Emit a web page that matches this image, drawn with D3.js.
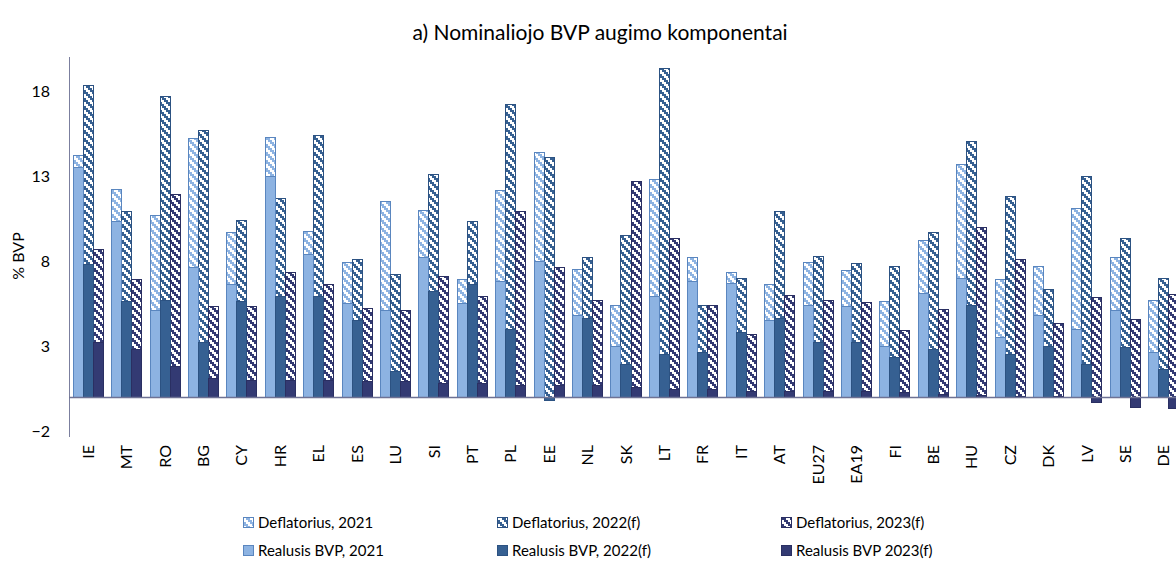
<!DOCTYPE html>
<html>
<head>
<meta charset="utf-8">
<script src="https://cdn.jsdelivr.net/npm/d3@7"></script>
<style>
  body { margin: 0; background: #fff; }
  svg { display: block; font-family: Lato, "Open Sans", sans-serif; }
</style>
</head>
<body>
<svg></svg>
<script>
// countries in chart order
let countries = ['IE','MT','RO','BG','CY','HR','EL','ES','LU','SI','PT','PL','EE','NL','SK','LT','FR','IT','AT','EU27','EA19','FI','BE','HU','CZ','DK','LV','SE','DE']

let years = ['2021', '2022', '2023']

// real GDP growth, % BVP
let real2021 = [13.5,10.3,5.1,7.6,6.6,13.0,8.4,5.5,5.1,8.2,5.5,6.8,8.0,4.8,3.0,5.9,6.8,6.7,4.5,5.4,5.3,3.0,6.1,7.0,3.5,4.8,4.0,5.1,2.6]
let real2022 = [7.8,5.6,5.7,3.2,5.6,5.9,5.9,4.5,1.5,6.2,6.6,4.0,-0.2,4.6,1.9,2.5,2.6,3.8,4.6,3.2,3.2,2.3,2.8,5.4,2.5,3.0,1.9,2.9,1.6]
let real2023 = [3.2,2.8,1.8,1.1,1.0,1.0,1.0,0.9,0.9,0.8,0.8,0.7,0.7,0.7,0.55,0.45,0.45,0.35,0.3,0.35,0.3,0.25,0.15,0.1,0.05,0.05,-0.35,-0.6,-0.65]

// GDP deflator contribution
let defl2021 = [0.7,1.9,5.6,7.6,3.05,2.25,1.35,2.4,6.4,2.8,1.4,5.35,6.4,2.7,2.4,6.9,1.4,0.6,2.1,2.5,2.15,2.6,3.1,6.7,3.4,2.9,7.1,3.1,3.1]
let defl2022 = [10.5,5.3,12.0,12.5,4.8,5.8,9.5,3.6,5.7,6.9,3.7,13.2,14.1,3.6,7.6,16.8,2.8,3.2,6.3,5.05,4.65,5.4,6.9,9.65,9.3,3.35,11.1,6.4,5.35]
let defl2023 = [5.5,4.1,10.1,4.2,4.3,6.3,5.6,4.3,4.2,6.3,5.1,10.2,6.9,5.0,12.1,8.9,4.95,3.3,5.7,5.3,5.25,3.65,5.0,9.9,8.05,4.3,5.85,4.55,6.05]

let yTicks = [-2, 3, 8, 13, 18]

let legendTop = ['Deflatorius, 2021', 'Deflatorius, 2022(f)', 'Deflatorius, 2023(f)']
let legendBottom = ['Realusis BVP, 2021', 'Realusis BVP, 2022(f)', 'Realusis BVP 2023(f)']

let fills = ['#8db3e2', '#366092', '#333a73']
let strokes = ['#5a86bf', '#2c5282', '#2a2f62']

let w = 1176
let h = 565
let plotLeft = 69
let plotRight = 1183
let plotTop = 57
let plotBottom = 431

let svg = d3.select('svg')
let xScale
let xInner
let yScale

let drawCanvas = () => {
   svg.attr('width', w)
      .attr('height', h)

   // stair-step diagonal hatch like the office chart pattern
   let defs = svg.append('defs')
   fills.forEach((c, i) => {
      let p = defs.append('pattern')
         .attr('id', 'hatch' + i)
         .attr('patternUnits', 'userSpaceOnUse')
         .attr('width', 8)
         .attr('height', 8)
      p.append('rect').attr('width', 8).attr('height', 8).attr('fill', '#fff')
      for (let r = 0; r < 4; r++) {
         for (let k = 0; k < 2; k++) {
            p.append('rect')
               .attr('x', ((r + k) % 4) * 2)
               .attr('y', r * 2)
               .attr('width', 2)
               .attr('height', 2)
               .attr('fill', c)
         }
      }
   })
}

let generateScales = () => {
   xScale = d3.scaleBand()
      .domain(countries)
      .range([plotLeft, plotRight])
      .paddingInner(0.21875)
      .paddingOuter(0.109375)

   xInner = d3.scaleBand()
      .domain(years)
      .range([0, xScale.bandwidth()])

   yScale = d3.scaleLinear()
      .domain([-2, 20])
      .range([plotBottom, plotTop])
}

let drawBars = () => {
   let reals = [real2021, real2022, real2023]
   let defls = [defl2021, defl2022, defl2023]
   let rows = []
   countries.forEach((c, i) => {
      years.forEach((yr, j) => {
         rows.push({ country: c, year: yr, idx: j, real: reals[j][i], defl: defls[j][i] })
      })
   })

   let groups = svg.append('g').attr('shape-rendering', 'crispEdges')

   // deflator part sits on top of positive real growth
   groups.selectAll('rect.defl')
      .data(rows)
      .enter()
      .append('rect')
      .attr('class', 'defl')
      .attr('x', (d) => xScale(d.country) + xInner(d.year))
      .attr('width', xInner.bandwidth())
      .attr('y', (d) => yScale(Math.max(d.real, 0) + d.defl))
      .attr('height', (d) => yScale(Math.max(d.real, 0)) - yScale(Math.max(d.real, 0) + d.defl))
      .attr('fill', (d) => 'url(#hatch' + d.idx + ')')
      .attr('stroke', (d) => strokes[d.idx])
      .attr('stroke-width', 1)

   groups.selectAll('rect.real')
      .data(rows)
      .enter()
      .append('rect')
      .attr('class', 'real')
      .attr('x', (d) => xScale(d.country) + xInner(d.year))
      .attr('width', xInner.bandwidth())
      .attr('y', (d) => yScale(Math.max(d.real, 0)))
      .attr('height', (d) => Math.abs(yScale(d.real) - yScale(0)))
      .attr('fill', (d) => fills[d.idx])
      .attr('stroke', (d) => strokes[d.idx])
      .attr('stroke-width', 1)
}

let generateAxes = () => {
   let yAxis = d3.axisLeft(yScale)
      .tickValues(yTicks)
      .tickSize(0)
      .tickPadding(19)

   let yg = svg.append('g')
      .attr('transform', 'translate(' + plotLeft + ',0)')
      .call(yAxis)
   yg.select('.domain').attr('stroke', '#7b7f9e').attr('d', 'M0.5,' + plotTop + 'V' + (plotBottom + 6))
   yg.selectAll('text').attr('font-size', 16).attr('fill', '#000').attr('font-family', 'Lato, sans-serif')

   // zero line
   let zeroAxis = d3.axisBottom(xScale).tickSize(0).tickFormat('')
   let zg = svg.append('g')
      .attr('transform', 'translate(0,' + yScale(0) + ')')
      .call(zeroAxis)
   zg.select('.domain').attr('stroke', '#6e7294').attr('stroke-width', 1.3).attr('d', 'M' + plotLeft + ',0.5H' + plotRight)

   // category labels at the bottom of the plot
   let xAxis = d3.axisBottom(xScale).tickSize(0)
   let xg = svg.append('g')
      .attr('transform', 'translate(0,' + 445 + ')')
      .call(xAxis)
   xg.select('.domain').remove()
   xg.selectAll('text')
      .attr('font-size', 16)
      .attr('fill', '#000')
      .attr('font-family', 'Lato, sans-serif')
      .attr('transform', 'rotate(-90)')
      .attr('text-anchor', 'end')
      .attr('x', 0)
      .attr('y', 0)
      .attr('dx', 0)
      .attr('dy', '0.35em')

   svg.append('text')
      .attr('transform', 'translate(24,256) rotate(-90)')
      .attr('text-anchor', 'middle')
      .attr('font-size', 16)
      .text('% BVP')

   svg.append('text')
      .attr('x', 600)
      .attr('y', 40)
      .attr('text-anchor', 'middle')
      .attr('font-size', 21)
      .text('a) Nominaliojo BVP augimo komponentai')
}

let drawLegend = () => {
   let colX = [243, 497, 781]
   let lg = svg.append('g').attr('shape-rendering', 'crispEdges')
   legendTop.forEach((t, i) => {
      lg.append('rect').attr('x', colX[i]).attr('y', 517).attr('width', 10).attr('height', 10)
         .attr('fill', 'url(#hatch' + i + ')').attr('stroke', strokes[i])
      lg.append('text').attr('x', colX[i] + 15).attr('y', 528).attr('font-size', 15).text(t)
   })
   legendBottom.forEach((t, i) => {
      lg.append('rect').attr('x', colX[i]).attr('y', 545).attr('width', 10).attr('height', 10)
         .attr('fill', fills[i]).attr('stroke', strokes[i])
      lg.append('text').attr('x', colX[i] + 15).attr('y', 556).attr('font-size', 15).text(t)
   })
}

drawCanvas()
generateScales()
drawBars()
generateAxes()
drawLegend()
</script>
</body>
</html>
